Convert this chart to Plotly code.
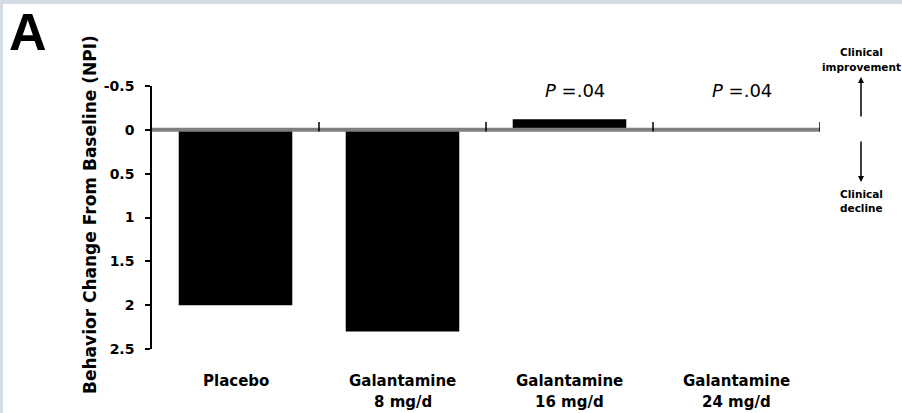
import plotly.graph_objects as go

# Data
categories = ["Placebo", "Galantamine<br>8 mg/d", "Galantamine<br>16 mg/d", "Galantamine<br>24 mg/d"]
change_npi = [2.0, 2.3, -0.12, 0.0]
bar_colors = ["#000000", "#000000", "#000000", "#bdbdbd"]
p_labels = ["", "", "<i>P</i> =.04", "<i>P</i> =.04"]
y_ticks = [-0.5, 0, 0.5, 1, 1.5, 2, 2.5]
y_tick_text = ["-0.5", "0", "0.5", "1", "1.5", "2", "2.5"]

W, H = 902, 413
L, R, T, B = 152, 82, 86, 64
PW, PH = W - L - R, H - T - B


def px_x(px):
    return (px - L) / PW


def px_y(py):
    return (H - B - py) / PH


FONT = "DejaVu Sans"
idx = list(range(len(categories)))

fig = go.Figure()
fig.add_trace(go.Bar(
    x=idx, y=change_npi, width=0.68,
    marker=dict(color=bar_colors, line=dict(width=0)),
    showlegend=False, hoverinfo="skip",
))

# Category labels below the plot, one annotation per text line
for i, cat in enumerate(categories):
    for k, line in enumerate(cat.split("<br>")):
        fig.add_annotation(x=i, y=px_y(381 + 21 * k), xref="x", yref="paper",
                           text="<b>%s</b>" % line, showarrow=False,
                           xanchor="center", yanchor="middle",
                           font=dict(family=FONT, size=15, color="black"))

# Significance labels above the bars
for i, txt in enumerate(p_labels):
    if txt:
        fig.add_annotation(x=i + 0.03, y=-0.45, text=txt, showarrow=False,
                           xref="x", yref="y",
                           font=dict(family=FONT, size=18, color="black"))

shapes = []
# Baseline (zero) line with category separators
shapes.append(dict(type="line", xref="x", yref="y", x0=-0.5, x1=len(idx) - 0.5,
                   y0=0, y1=0, line=dict(color="#7f7f7f", width=4), layer="above"))
for i in idx:
    shapes.append(dict(type="line", xref="x", yref="y", x0=i + 0.5, x1=i + 0.5,
                       y0=0.02, y1=-0.09, line=dict(color="black", width=1.5), layer="above"))

# Thin frame strips along the top and left edges
frame = "#d3dce4"
shapes.append(dict(type="rect", xref="paper", yref="paper", x0=px_x(0), x1=px_x(W),
                   y0=px_y(4), y1=px_y(0), fillcolor=frame, line=dict(width=0)))
shapes.append(dict(type="rect", xref="paper", yref="paper", x0=px_x(0), x1=px_x(3),
                   y0=px_y(H), y1=px_y(0), fillcolor=frame, line=dict(width=0)))

# Panel letter
fig.add_annotation(x=px_x(7), y=px_y(1), xref="paper", yref="paper", text="<b>A</b>",
                   showarrow=False, xanchor="left", yanchor="top",
                   font=dict(family="Liberation Sans", size=52, color="black"))

# Y-axis title
fig.add_annotation(x=px_x(90), y=px_y(215), xref="paper", yref="paper",
                   text="<b>Behavior Change From Baseline (NPI)</b>", textangle=-90,
                   showarrow=False, xanchor="center", yanchor="middle",
                   font=dict(family=FONT, size=17, color="black"))

# Direction guide on the right
side_x = px_x(861)
for txt, ypix in [("Clinical", 52), ("improvement", 67), ("Clinical", 194), ("decline", 208)]:
    fig.add_annotation(x=side_x, y=px_y(ypix), xref="paper", yref="paper",
                       text="<b>%s</b>" % txt, showarrow=False,
                       xanchor="center", yanchor="middle",
                       font=dict(family=FONT, size=10.5, color="black"))
fig.add_annotation(x=side_x, y=px_y(77), xref="paper", yref="paper",
                   ax=0, ay=41, text="",
                   showarrow=True, arrowhead=2, arrowsize=0.8, arrowwidth=1.5, arrowcolor="black")
fig.add_annotation(x=side_x, y=px_y(182), xref="paper", yref="paper",
                   ax=0, ay=-42, text="",
                   showarrow=True, arrowhead=2, arrowsize=0.8, arrowwidth=1.5, arrowcolor="black")

fig.update_layout(
    width=W, height=H,
    margin=dict(l=L, r=R, t=T, b=B),
    paper_bgcolor="white", plot_bgcolor="white",
    shapes=shapes, bargap=0.32,
    xaxis=dict(range=[-0.5, len(idx) - 0.5], tickmode="array", tickvals=idx,
               showticklabels=False, automargin=False,
               showline=False, showgrid=False, zeroline=False, ticks=""),
    yaxis=dict(range=[2.5, -0.5], tickmode="array", tickvals=y_ticks,
               ticktext=["<b>%s</b>" % t for t in y_tick_text],
               showline=True, linecolor="black", linewidth=1.5,
               ticks="outside", ticklen=5, tickwidth=1.5, tickcolor="black",
               ticklabelstandoff=8, automargin=False,
               showgrid=False, zeroline=False,
               tickfont=dict(family=FONT, size=14, color="black")),
)

fig.write_html("out.html")
